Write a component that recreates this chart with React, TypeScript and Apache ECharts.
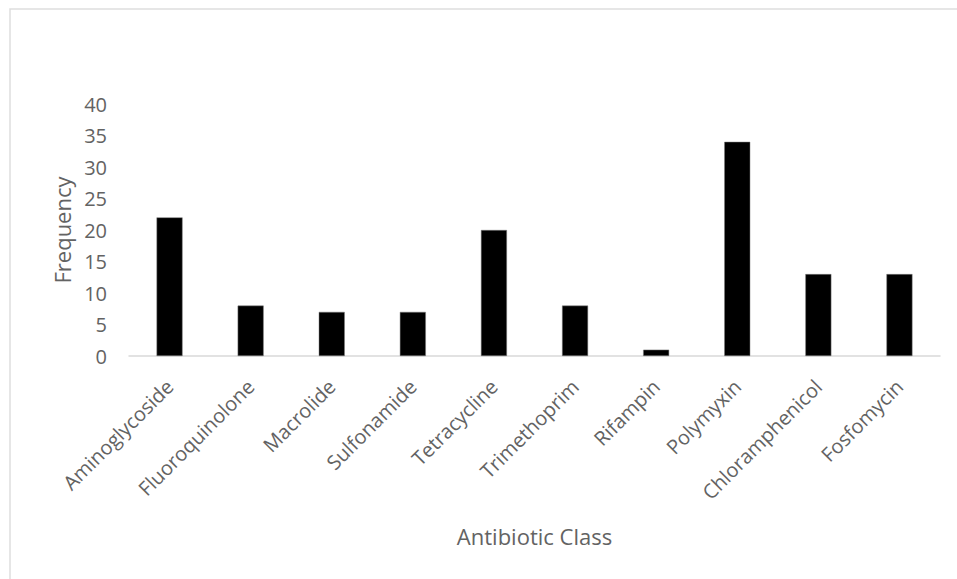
import React, { useEffect, useRef } from "react";
import * as echarts from "echarts";

const categories = [
  "Aminoglycoside",
  "Fluoroquinolone",
  "Macrolide",
  "Sulfonamide",
  "Tetracycline",
  "Trimethoprim",
  "Rifampin",
  "Polymyxin",
  "Chloramphenicol",
  "Fosfomycin",
];
const frequency = [22, 8, 7, 7, 20, 8, 1, 34, 13, 13];
const yMin = 0;
const yMax = 40;
const yStep = 5;

const FONT = "'Open Sans', sans-serif";
const TEXT = "#636363";

export default function App() {
  const ref = useRef<HTMLDivElement>(null);
  useEffect(() => {
    if (!ref.current) return;
    const chart = echarts.init(ref.current, null, { renderer: "svg" });
    chart.setOption({
      animation: false,
      backgroundColor: "#ffffff",
      graphic: [
        {
          type: "rect",
          shape: { x: 10, y: 9, width: 1000, height: 1000 },
          style: { fill: "none", stroke: "#dedede", lineWidth: 1.5 },
          silent: true,
        },
      ],
      grid: { left: 129, right: 17, top: 104, bottom: 223, containLabel: false },
      xAxis: {
        type: "category",
        data: categories,
        name: "Antibiotic Class",
        nameLocation: "middle",
        nameGap: 169,
        nameTextStyle: { fontFamily: FONT, fontSize: 22, color: TEXT },
        axisLine: { lineStyle: { color: "#d9d9d9", width: 1.5 } },
        axisTick: { show: false },
        axisLabel: {
          rotate: 45,
          interval: 0,
          margin: 27,
          fontFamily: FONT,
          fontSize: 20,
          color: TEXT,
        },
      },
      yAxis: {
        type: "value",
        min: yMin,
        max: yMax,
        interval: yStep,
        name: "Frequency",
        nameLocation: "middle",
        nameGap: 53,
        nameTextStyle: { fontFamily: FONT, fontSize: 22, color: TEXT },
        axisLine: { show: false },
        axisTick: { show: false },
        splitLine: { show: false },
        axisLabel: { margin: 22, fontFamily: FONT, fontSize: 20, color: TEXT },
      },
      series: [
        {
          type: "bar",
          data: frequency,
          barWidth: 26,
          itemStyle: { color: "#000000", borderColor: "#7f7f7f", borderWidth: 0.5 },
        },
      ],
    });
    return () => chart.dispose();
  }, []);
  return (
    <div
      ref={ref}
      style={{ position: "fixed", left: 0, top: 0, width: 957, height: 579 }}
    />
  );
}
